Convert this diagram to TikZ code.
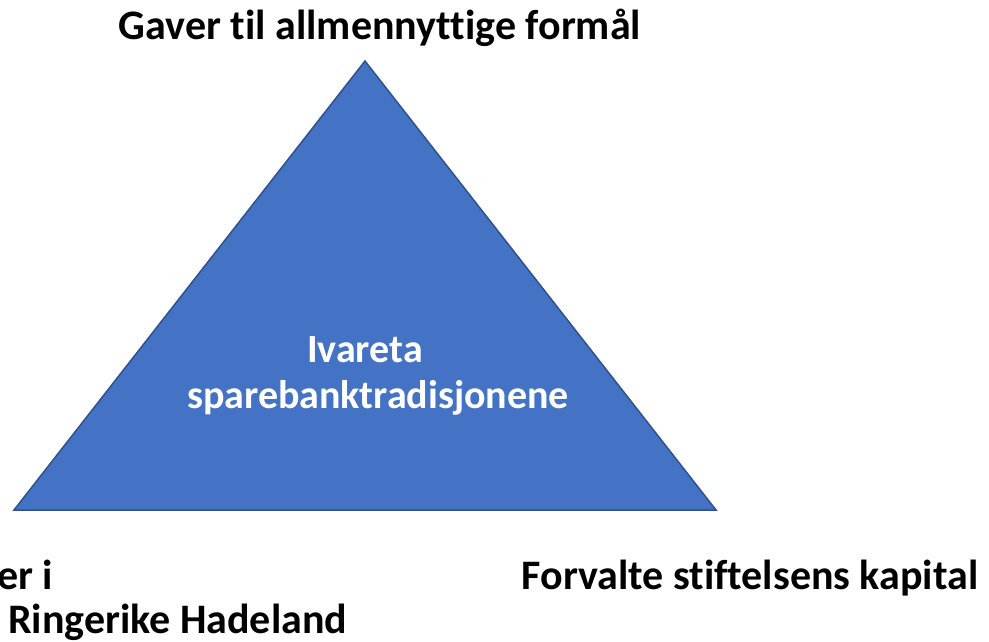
\documentclass[tikz,border=0pt]{standalone}
\usepackage{fontspec}
\setmainfont{Carlito}[Ligatures=NoCommon]
\usepackage{tikz}
\usetikzlibrary{positioning}

\definecolor{triblue}{HTML}{4472C4}
\definecolor{triedge}{HTML}{2F528F}

\tikzset{
  lbl/.style={font=\bfseries\fontsize{42}{50}\selectfont, inner sep=0pt},
  innerlbl/.style={font=\bfseries\fontsize{40}{48}\selectfont, text=white, inner sep=0pt}
}

\begin{document}
\begin{tikzpicture}[x=1pt, y=-1pt]

\useasboundingbox (0,0) rectangle (989,641);
\clip (0,0) rectangle (989,641);

\coordinate (apex) at (365,61);
\coordinate (bl) at (14,510);
\coordinate (br) at (716,510);
\draw[triedge, fill=triblue, line width=1.5pt, line join=miter] (apex) -- (br) -- (bl) -- cycle;

\node[innerlbl] (ivareta) at (365,350) {Ivareta};
\node[innerlbl] (tradisjon) at (378,398) {sparebanktradisjonene};

\node[lbl] (gaver) at (380,28) {Gaver til allmennyttige formål};
\node[lbl] (forvalte) at (750,578) {Forvalte stiftelsens kapital};
\node[lbl, anchor=west] (eier) at (-3,575) {er i};
\node[lbl, anchor=west] (ringerike) at (8,622) {Ringerike Hadeland};

\end{tikzpicture}
\end{document}
